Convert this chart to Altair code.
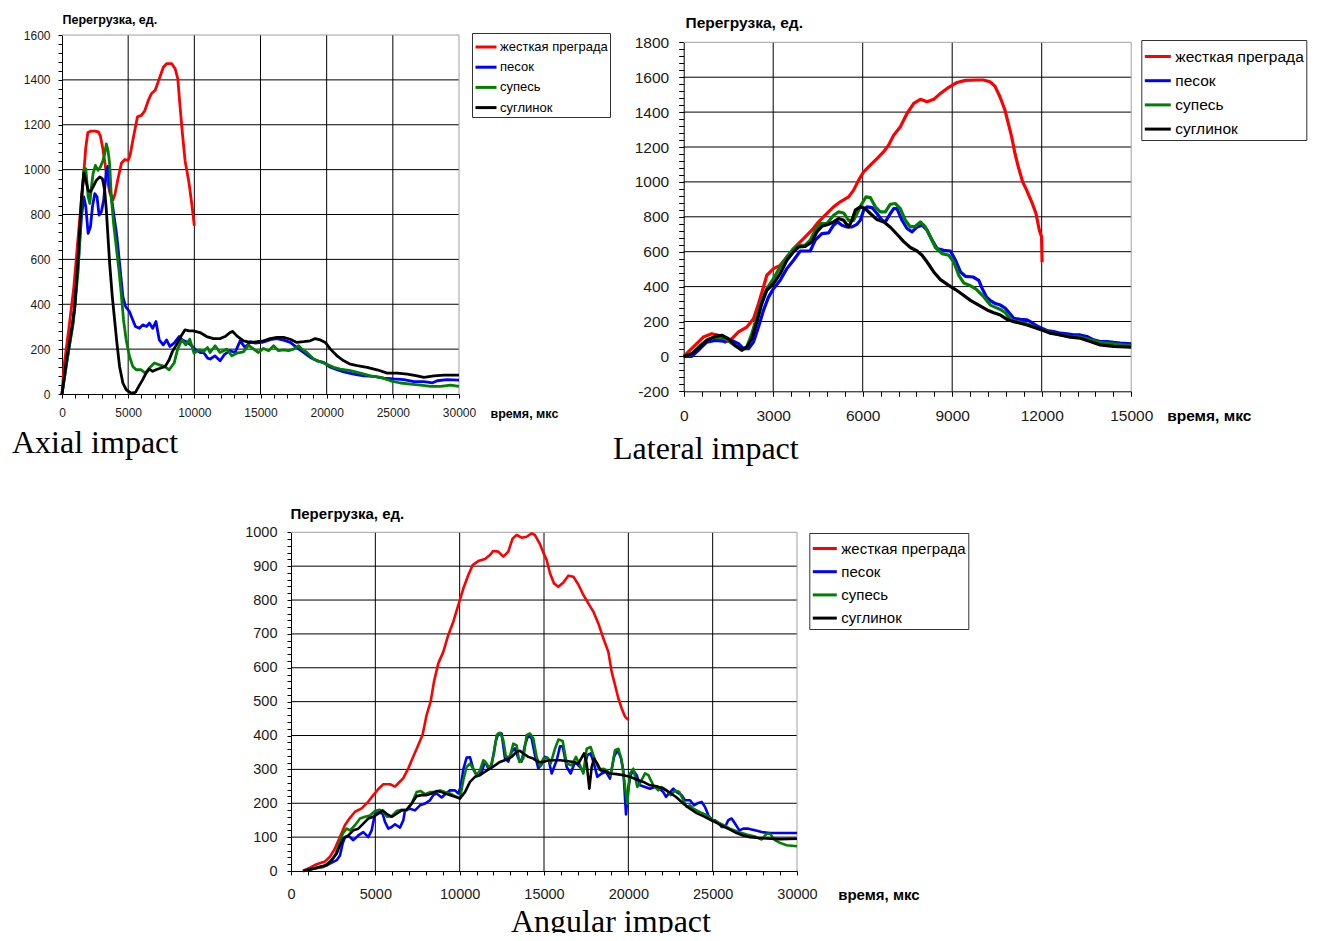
import altair as alt
import pandas as pd

FONT = "Liberation Sans"
SERIF = "Liberation Serif"

SERIES = ["жесткая преграда", "песок", "супесь", "суглинок"]
COLORS = ["#ff0000", "#0000ff", "#008000", "#000000"]
Y_TITLE = "Перегрузка, ед."
X_TITLE = "время, мкс"
CAPTIONS = ["Axial impact", "Lateral impact", "Angular impact"]

# ---------------- Axial impact ----------------
AX_X_TICKS = [0, 5000, 10000, 15000, 20000, 25000, 30000]
AX_Y_TICKS = [0, 200, 400, 600, 800, 1000, 1200, 1400, 1600]

AX_RED = [(0, 0), (150, 124), (350, 213), (600, 330), (900, 480), (1250, 720), (1600, 950),
          (1800, 1100), (1950, 1165), (2200, 1172), (2500, 1172), (2750, 1168), (2900, 1150),
          (3100, 1090), (3350, 985), (3600, 900), (3850, 865), (4000, 890), (4250, 965),
          (4500, 1030), (4750, 1045), (5000, 1040), (5150, 1065), (5400, 1145), (5700, 1235),
          (6000, 1242), (6250, 1262), (6500, 1305), (6750, 1338), (7050, 1355), (7350, 1405),
          (7650, 1455), (7900, 1472), (8300, 1472), (8550, 1450), (8750, 1405), (8900, 1295),
          (9100, 1160), (9300, 1040), (9600, 940), (9800, 850), (10000, 750)]
AX_BLUE = [(0, 0), (350, 138), (850, 330), (1225, 582), (1475, 790), (1650, 878), (1800, 834),
           (1975, 716), (2150, 745), (2300, 834), (2475, 893), (2650, 878), (2800, 797),
           (2975, 812), (3150, 864), (3350, 997), (3475, 1015), (3600, 923), (3800, 849),
           (3975, 775), (4150, 701), (4350, 582), (4600, 434), (4800, 390), (5100, 367),
           (5350, 330), (5550, 301), (5850, 293), (6100, 308), (6400, 301), (6600, 316),
           (6850, 293), (7100, 323), (7350, 241), (7650, 219), (7900, 241), (8150, 212),
           (8475, 227), (8850, 256), (9100, 241), (9350, 234), (9725, 219), (10100, 197),
           (10450, 185), (10700, 185), (11000, 160), (11200, 156), (11550, 170), (11950, 148),
           (12300, 178), (12700, 193), (13080, 185), (13460, 237), (13840, 207), (14220, 233),
           (14600, 227), (15100, 230), (15480, 237), (15860, 244), (16240, 247), (16740, 240),
           (17250, 230), (17750, 207), (18250, 185), (18760, 163), (19270, 148), (19770, 141),
           (20280, 119), (20780, 108), (21290, 99), (22040, 89), (22800, 81), (23560, 79),
           (24320, 71), (25070, 67), (25830, 64), (26590, 55), (27350, 55), (28000, 50),
           (28360, 59), (29110, 64), (30000, 62)]
AX_GREEN = [(0, 0), (350, 138), (850, 316), (1225, 553), (1475, 849), (1650, 997), (1800, 1004),
            (1975, 878), (2100, 849), (2225, 923), (2350, 982), (2525, 1019), (2725, 997),
            (2900, 1012), (3100, 1041), (3225, 1071), (3350, 1115), (3475, 1086), (3600, 1027),
            (3725, 878), (3900, 760), (4100, 656), (4300, 553), (4475, 449), (4650, 330),
            (4850, 241), (5100, 167), (5350, 123), (5600, 108), (5975, 108), (6300, 93),
            (6600, 116), (6975, 138), (7350, 130), (7725, 123), (8100, 108), (8475, 138),
            (8725, 197), (9050, 241), (9350, 219), (9650, 244), (9975, 182), (10350, 197),
            (10700, 190), (11000, 207), (11190, 185), (11570, 215), (11940, 185), (12450, 200),
            (12830, 170), (13210, 182), (13710, 188), (14090, 218), (14470, 200), (14850, 185),
            (15230, 203), (15610, 193), (15990, 215), (16360, 193), (16740, 197), (17120, 193),
            (17500, 200), (17880, 215), (18130, 200), (18510, 185), (19010, 156), (19520, 144),
            (20020, 133), (20530, 119), (21030, 111), (21790, 104), (22550, 93), (23310, 81),
            (24070, 74), (24820, 59), (25580, 49), (26340, 44), (27100, 40), (27850, 34),
            (28610, 34), (29370, 40), (30000, 34)]
AX_BLACK = [(0, 0), (350, 153), (725, 286), (975, 390), (1225, 612), (1475, 878), (1650, 985),
            (1800, 953), (1975, 908), (2150, 901), (2350, 923), (2600, 953), (2850, 967),
            (3050, 960), (3225, 908), (3350, 819), (3475, 701), (3600, 582), (3800, 434),
            (3975, 330), (4150, 227), (4350, 123), (4600, 49), (4850, 19), (5225, 4), (5550, 7),
            (5800, 34), (6100, 64), (6350, 93), (6600, 111), (6850, 101), (7100, 108), (7475, 116),
            (7800, 123), (8100, 153), (8350, 190), (8650, 219), (8975, 256), (9300, 286),
            (9600, 281), (9920, 281), (10430, 274), (10930, 256), (11440, 247), (11940, 247),
            (12320, 256), (12700, 274), (12900, 279), (13210, 259), (13710, 237), (14220, 230),
            (14720, 233), (15230, 237), (15730, 247), (16240, 252), (16740, 252), (17250, 244),
            (17750, 230), (18260, 233), (18760, 237), (19140, 247), (19520, 241), (19900, 230),
            (20280, 200), (20780, 170), (21290, 148), (21790, 133), (22300, 126), (23050, 119),
            (23810, 108), (24570, 93), (25330, 93), (26090, 89), (26840, 81), (27350, 74),
            (28110, 81), (28860, 84), (30000, 84)]

# ---------------- Lateral impact ----------------
LA_X_TICKS = [0, 3000, 6000, 9000, 12000, 15000]
LA_Y_TICKS = [-200, 0, 200, 400, 600, 800, 1000, 1200, 1400, 1600, 1800]

LA_RED = [(0, 0), (324, 54), (660, 111), (940, 130), (1164, 121), (1388, 82), (1611, 101),
          (1835, 140), (2115, 168), (2339, 216), (2507, 302), (2674, 398), (2786, 465),
          (3010, 503), (3234, 522), (3458, 570), (3737, 627), (4017, 675), (4297, 723),
          (4521, 771), (4801, 819), (5024, 857), (5248, 886), (5528, 914), (5696, 953),
          (5864, 1010), (6032, 1058), (6255, 1096), (6479, 1134), (6703, 1173), (6871, 1211),
          (7039, 1268), (7262, 1316), (7486, 1392), (7710, 1450), (7934, 1473), (8158, 1459),
          (8381, 1473), (8605, 1507), (8885, 1542), (9165, 1570), (9444, 1582), (9800, 1584),
          (10041, 1584), (10265, 1574), (10432, 1549), (10600, 1488), (10768, 1412),
          (10880, 1335), (10992, 1259), (11104, 1163), (11216, 1086), (11361, 1000),
          (11495, 953), (11663, 886), (11809, 819), (11921, 723), (11995, 685), (12005, 610),
          (12012, 540)]
LA_BLUE = [(0, 0), (269, 0), (548, 44), (772, 82), (1052, 92), (1332, 88), (1611, 92),
           (1835, 73), (2003, 44), (2171, 44), (2339, 82), (2507, 168), (2674, 264), (2842, 340),
           (3010, 388), (3234, 436), (3458, 503), (3682, 551), (3906, 604), (4241, 604),
           (4409, 666), (4633, 704), (4857, 708), (5024, 752), (5158, 771), (5304, 752),
           (5472, 742), (5640, 742), (5808, 757), (5920, 780), (6032, 838), (6143, 857),
           (6311, 853), (6479, 819), (6647, 780), (6759, 771), (6927, 819), (7039, 847),
           (7150, 847), (7318, 780), (7486, 733), (7654, 714), (7822, 742), (7990, 752),
           (8158, 723), (8325, 666), (8493, 618), (8717, 608), (8941, 604), (9109, 551),
           (9277, 484), (9444, 459), (9700, 455), (9892, 436), (10004, 389), (10148, 341),
           (10282, 319), (10450, 303), (10617, 294), (10784, 275), (10929, 246), (11063, 218),
           (11286, 212), (11509, 209), (11676, 193), (11843, 174), (12000, 161), (12178, 148),
           (12400, 142), (12624, 133), (12847, 129), (13070, 123), (13293, 123), (13516, 114),
           (13739, 95), (13962, 85), (14185, 85), (14408, 80), (14631, 76), (15000, 72)]
LA_GREEN = [(0, 0), (269, 15), (548, 63), (772, 92), (1052, 111), (1332, 107), (1556, 82),
            (1779, 54), (1947, 34), (2115, 54), (2283, 130), (2451, 226), (2618, 321),
            (2786, 388), (3010, 446), (3234, 513), (3458, 570), (3682, 618), (3850, 637),
            (4073, 637), (4241, 666), (4409, 723), (4577, 761), (4801, 761), (5024, 809),
            (5192, 828), (5360, 822), (5528, 780), (5696, 780), (5808, 819), (5976, 876),
            (6111, 914), (6255, 910), (6423, 857), (6591, 828), (6759, 828), (6927, 872),
            (7095, 876), (7262, 847), (7430, 780), (7598, 742), (7766, 746), (7934, 771),
            (8101, 742), (8269, 685), (8437, 624), (8661, 589), (8885, 580), (9053, 541),
            (9221, 465), (9388, 421), (9590, 407), (9800, 385), (10060, 341), (10282, 294),
            (10450, 281), (10617, 269), (10784, 250), (10952, 212), (11175, 199), (11397, 193),
            (11732, 171), (12000, 152), (12290, 137), (12624, 123), (12958, 114), (13293, 110),
            (13627, 95), (13962, 80), (14408, 72), (15000, 61)]
LA_BLACK = [(0, 0), (269, 15), (548, 54), (772, 92), (1052, 115), (1276, 121), (1500, 101),
            (1723, 63), (1947, 38), (2115, 54), (2283, 101), (2451, 197), (2618, 302),
            (2786, 379), (3010, 417), (3234, 474), (3458, 551), (3682, 599), (3850, 627),
            (4073, 631), (4297, 656), (4465, 714), (4633, 746), (4857, 757), (5024, 771),
            (5192, 790), (5360, 780), (5528, 742), (5640, 780), (5752, 838), (5920, 857),
            (6087, 847), (6255, 819), (6479, 784), (6703, 771), (6927, 740), (7150, 700),
            (7374, 658), (7598, 624), (7822, 604), (7990, 580), (8158, 541), (8381, 484),
            (8605, 440), (8885, 407), (9109, 383), (9333, 356), (9612, 321), (9948, 288),
            (10170, 266), (10393, 250), (10617, 237), (10840, 212), (11063, 199), (11286, 190),
            (11509, 180), (11732, 167), (12000, 152), (12290, 133), (12624, 123), (12958, 110),
            (13293, 104), (13627, 85), (13962, 66), (14408, 57), (15000, 53)]

# ---------------- Angular impact ----------------
AN_X_TICKS = [0, 5000, 10000, 15000, 20000, 25000, 30000]
AN_Y_TICKS = [0, 100, 200, 300, 400, 500, 600, 700, 800, 900, 1000]

AN_RED = [(692, 0), (1126, 10), (1522, 20), (2015, 28), (2312, 42), (2608, 67), (2905, 101),
          (3201, 136), (3498, 157), (3794, 175), (4190, 185), (4584, 205), (4881, 224),
          (5177, 242), (5474, 256), (5869, 256), (6165, 249), (6363, 259), (6659, 274),
          (6955, 303), (7252, 338), (7548, 372), (7805, 403), (8042, 461), (8279, 500),
          (8477, 559), (8734, 613), (9030, 647), (9326, 697), (9623, 736), (9919, 785),
          (10216, 834), (10512, 874), (10769, 903), (11105, 915), (11500, 921), (11797, 933),
          (11994, 945), (12290, 943), (12587, 928), (12883, 943), (13140, 982), (13377, 992),
          (13674, 984), (13970, 987), (14267, 997), (14464, 992), (14761, 965), (14961, 940),
          (15159, 918), (15356, 879), (15594, 849), (15850, 839), (16147, 852), (16443, 872),
          (16740, 869), (17036, 846), (17333, 815), (17629, 790), (17925, 766), (18222, 731),
          (18518, 687), (18814, 647), (19012, 588), (19210, 549), (19407, 510), (19605, 480),
          (19802, 456), (20000, 446)]
AN_BLUE = [(731, 0), (1324, 7), (1917, 12), (2312, 22), (2707, 32), (2905, 46), (3063, 81),
           (3201, 100), (3458, 102), (3695, 91), (3992, 105), (4288, 115), (4584, 100),
           (4782, 120), (4980, 169), (5177, 174), (5434, 169), (5572, 145), (5770, 125),
           (5968, 130), (6165, 138), (6462, 128), (6659, 150), (6758, 179), (7054, 184),
           (7351, 179), (7647, 194), (7944, 199), (8240, 209), (8438, 224), (8635, 229),
           (8931, 217), (9188, 229), (9425, 238), (9722, 238), (9919, 229), (10058, 248),
           (10216, 300), (10413, 335), (10611, 336), (10809, 300), (11006, 283), (11303, 293),
           (11500, 323), (11698, 303), (11896, 313), (12133, 382), (12290, 406), (12488, 406),
           (12686, 333), (12883, 323), (13081, 352), (13279, 362), (13476, 333), (13674, 323),
           (13871, 372), (14069, 401), (14267, 392), (14464, 342), (14662, 303), (14860, 315),
           (15060, 337), (15257, 332), (15455, 288), (15752, 327), (15950, 368), (16108, 368),
           (16344, 307), (16581, 288), (16838, 322), (17135, 307), (17332, 293), (17569, 342),
           (17767, 347), (17965, 317), (18162, 278), (18419, 288), (18676, 293), (18913, 273),
           (19150, 337), (19348, 357), (19546, 337), (19704, 297), (19862, 167), (20000, 248),
           (20138, 283), (20296, 297), (20494, 283), (20692, 253), (20988, 248), (21284, 243),
           (21581, 248), (21800, 245), (22075, 233), (22233, 219), (22470, 233), (22668, 243),
           (22866, 233), (23162, 224), (23360, 209), (23656, 209), (23893, 194), (24150, 201),
           (24348, 204), (24545, 189), (24742, 165), (24940, 150), (25138, 150), (25335, 142),
           (25533, 130), (25730, 130), (25928, 150), (26126, 155), (26323, 140), (26580, 120),
           (26817, 125), (27114, 125), (27509, 120), (27904, 115), (28398, 112), (28991, 112),
           (30000, 112)]
AN_GREEN = [(731, 0), (1324, 7), (1917, 14), (2312, 27), (2608, 46), (2865, 81), (3063, 110),
            (3300, 125), (3498, 120), (3794, 135), (4090, 155), (4387, 160), (4683, 164),
            (4980, 177), (5236, 181), (5474, 174), (5711, 160), (5968, 162), (6264, 177),
            (6560, 181), (6857, 179), (7153, 199), (7450, 233), (7687, 236), (7944, 227),
            (8240, 233), (8536, 233), (8833, 238), (9129, 233), (9425, 229), (9722, 221),
            (10018, 214), (10216, 268), (10413, 307), (10611, 317), (10809, 302), (11006, 283),
            (11204, 297), (11401, 327), (11599, 317), (11797, 302), (12034, 347), (12192, 401),
            (12390, 408), (12587, 386), (12745, 337), (12982, 337), (13180, 376), (13377, 371),
            (13536, 322), (13773, 332), (13971, 401), (14168, 406), (14366, 391), (14563, 337),
            (14761, 310), (14959, 332), (15198, 335), (15395, 317), (15652, 361), (15850, 388),
            (16108, 384), (16344, 317), (16640, 312), (16897, 337), (17135, 312), (17332, 288),
            (17530, 361), (17767, 366), (18024, 327), (18281, 299), (18518, 302), (18716, 297),
            (18953, 283), (19210, 357), (19407, 361), (19605, 327), (19802, 248), (19941, 199),
            (20099, 288), (20296, 302), (20533, 248), (20731, 263), (20988, 288), (21186, 283),
            (21482, 253), (21778, 238), (21976, 248), (22273, 238), (22510, 224), (22767, 238),
            (23024, 233), (23261, 209), (23459, 189), (23656, 194), (23854, 184), (24249, 174),
            (24644, 165), (25039, 150), (25533, 138), (26027, 125), (26521, 115), (27015, 108),
            (27509, 102), (27904, 93), (28200, 110), (28398, 110), (28694, 91), (28991, 83),
            (29386, 76), (30000, 73)]
AN_BLACK = [(731, 0), (1324, 7), (1818, 14), (2114, 17), (2411, 32), (2707, 51), (2905, 76),
            (3102, 96), (3399, 105), (3695, 120), (3992, 125), (4288, 140), (4584, 155),
            (4881, 160), (5177, 169), (5434, 179), (5671, 169), (5968, 160), (6264, 169),
            (6560, 179), (6857, 181), (7153, 199), (7450, 221), (7746, 224), (8042, 224),
            (8339, 229), (8635, 236), (8931, 233), (9228, 227), (9623, 221), (10018, 214),
            (10315, 233), (10611, 263), (10908, 278), (11204, 283), (11500, 293), (11797, 302),
            (12093, 312), (12390, 322), (12785, 329), (13081, 337), (13377, 352), (13575, 355),
            (13773, 347), (14069, 337), (14366, 332), (14662, 322), (14959, 322), (15255, 327),
            (15554, 327), (15950, 327), (16344, 325), (16740, 322), (17036, 317), (17234, 335),
            (17372, 347), (17530, 317), (17688, 243), (17826, 307), (17965, 332), (18162, 317),
            (18360, 297), (18617, 295), (18913, 288), (19308, 286), (19704, 283), (20099, 278),
            (20494, 270), (20889, 263), (21284, 253), (21680, 250), (22075, 243), (22470, 231),
            (22866, 217), (23261, 199), (23656, 184), (24051, 171), (24446, 162), (24842, 152),
            (25237, 142), (25632, 132), (26027, 122), (26422, 112), (26817, 105), (27213, 100),
            (27608, 98), (28200, 96), (28991, 94), (30000, 95)]

# ---------------- layout / style per panel ----------------
PANELS = [
    dict(series=[AX_RED, AX_BLUE, AX_GREEN, AX_BLACK], xt=AX_X_TICKS, yt=AX_Y_TICKS,
         xminor=1000, yminor=40, xrange=[54, 451], yrange=[386, 27],
         xoff=-539, yoff=-54, tick=4, xpad=9, ypad=8, lab_fs=12, title_fs=12.5,
         ytx=0, yty=11, xtx=482, xty=13, sw=2.8,
         lx=464, ly=25, leg_fs=13, sym=441, lpad=2, lrow=1.2, loff=2),
    dict(series=[LA_RED, LA_BLUE, LA_GREEN, LA_BLACK], xt=LA_X_TICKS, yt=LA_Y_TICKS,
         xminor=600, yminor=40, xrange=[675.7, 1123.2], yrange=[383.3, 34.3],
         xoff=-541.7, yoff=-675.7, tick=5, xpad=12, ypad=10, lab_fs=15.5, title_fs=15.5,
         ytx=1.3, yty=14.6, xtx=1158.7, xty=17, sw=3.2,
         lx=1133.3, ly=32, leg_fs=15.5, sym=676, lpad=2, lrow=1.2, loff=3),
    dict(series=[AN_RED, AN_BLUE, AN_GREEN, AN_BLACK], xt=AN_X_TICKS, yt=AN_Y_TICKS,
         xminor=1000, yminor=20, xrange=[283, 789], yrange=[863, 524.3],
         xoff=-62, yoff=-283, tick=4, xpad=12, ypad=10, lab_fs=14.5, title_fs=15,
         ytx=-1, yty=505.9, xtx=829.7, xty=16, sw=2.6,
         lx=801.3, ly=525, leg_fs=15, sym=576, lpad=2, lrow=1.2, loff=3),
]
CAPTION_POS = [(4, 445), (605, 451), (503, 924)]


def build_panel(p):
    xdom = [p["xt"][0], p["xt"][-1]]
    ydom = [p["yt"][0], p["yt"][-1]]
    xmajor = p["xt"][1] - p["xt"][0]
    ymajor = p["yt"][1] - p["yt"][0]
    xvals = list(range(xdom[0], xdom[1] + 1, p["xminor"]))
    yvals = list(range(ydom[0], ydom[1] + 1, p["yminor"]))

    xs = alt.Scale(domain=xdom, range=p["xrange"], nice=False, zero=False)
    ys = alt.Scale(domain=ydom, range=p["yrange"], nice=False, zero=False)

    xaxis = alt.Axis(
        orient="bottom", offset=p["xoff"], grid=False, values=xvals,
        labelExpr=f"datum.value % {xmajor} === 0 ? '' + datum.value : ''",
        tickSize=p["tick"], tickColor="black", tickWidth=1,
        domainColor="black", domainWidth=1,
        labelFont=FONT, labelFontSize=p["lab_fs"], labelColor="#1a1a1a",
        labelPadding=p["xpad"], labelOverlap=False, labelFlush=False,
        title=X_TITLE, titleFont=FONT, titleFontSize=p["title_fs"], titleFontWeight="bold",
        titleColor="black", titleX=p["xtx"], titleY=p["xty"], titleAlign="left",
        titleBaseline="top", titleAngle=0)
    yaxis = alt.Axis(
        orient="left", offset=p["yoff"], grid=False, values=yvals,
        labelExpr=f"datum.value % {ymajor} === 0 ? '' + datum.value : ''",
        tickSize=p["tick"], tickColor="black", tickWidth=1,
        domainColor="black", domainWidth=1,
        labelFont=FONT, labelFontSize=p["lab_fs"], labelColor="#1a1a1a",
        labelPadding=p["ypad"], labelOverlap=False, labelFlush=False,
        title=Y_TITLE, titleFont=FONT, titleFontSize=p["title_fs"], titleFontWeight="bold",
        titleColor="black", titleX=p["ytx"], titleY=p["yty"], titleAlign="left",
        titleBaseline="middle", titleAngle=0)

    vgrid = pd.DataFrame({"gx": p["xt"][1:-1], "y0": ydom[0], "y1": ydom[1]})
    hgrid = pd.DataFrame({"gy": p["yt"][1:-1], "x0": xdom[0], "x1": xdom[1]})
    frame = pd.DataFrame({"fx": [xdom[0], xdom[1]], "fx2": [xdom[1], xdom[1]],
                          "fy": [ydom[1], ydom[0]], "fy2": [ydom[1], ydom[1]]})

    layers = [
        alt.Chart(vgrid).mark_rule(color="black", strokeWidth=1).encode(
            x=alt.X("gx:Q", scale=xs, axis=xaxis), y=alt.Y("y0:Q", scale=ys, axis=yaxis),
            y2="y1:Q"),
        alt.Chart(hgrid).mark_rule(color="black", strokeWidth=1).encode(
            y=alt.Y("gy:Q", scale=ys, axis=yaxis), x=alt.X("x0:Q", scale=xs, axis=xaxis),
            x2="x1:Q"),
        alt.Chart(frame).mark_rule(color="#a0a0a0", strokeWidth=1).encode(
            x=alt.X("fx:Q", scale=xs, axis=xaxis), x2="fx2:Q",
            y=alt.Y("fy:Q", scale=ys, axis=yaxis), y2="fy2:Q"),
    ]
    legend = alt.Legend(
        orient="none", legendX=p["lx"], legendY=p["ly"], title=None,
        symbolType="stroke", symbolStrokeWidth=3, symbolSize=p["sym"],
        labelFont=FONT, labelFontSize=p["leg_fs"], labelColor="black",
        labelOffset=p["loff"], rowPadding=p["lrow"], padding=p["lpad"],
        strokeColor="#333333", fillColor="white", labelLimit=400)
    cscale = alt.Scale(domain=SERIES, range=COLORS)
    for name, pts in zip(SERIES, p["series"]):
        df = pd.DataFrame({"t": [a for a, b in pts], "v": [b for a, b in pts], "series": name})
        layers.append(
            alt.Chart(df).mark_line(strokeWidth=p["sw"], strokeJoin="round").encode(
                x=alt.X("t:Q", scale=xs, axis=xaxis),
                y=alt.Y("v:Q", scale=ys, axis=yaxis),
                color=alt.Color("series:N", scale=cscale, legend=legend),
            ))
    return alt.layer(*layers)


panels = [build_panel(p) for p in PANELS]
captions = []
for text, (cx, cy) in zip(CAPTIONS, CAPTION_POS):
    captions.append(
        alt.Chart(pd.DataFrame({"c": [text]})).mark_text(
            font=SERIF, fontSize=32, align="left", baseline="alphabetic", color="black"
        ).encode(text="c:N", x=alt.value(cx), y=alt.value(cy)))

chart = alt.layer(*panels, *captions).resolve_scale(
    x="independent", y="independent", color="independent"
).properties(
    width=1304, height=925, padding=0, background="white",
    autosize=alt.AutoSizeParams(type="none"),
).configure_view(strokeOpacity=0)

chart.save("out.html", embed_options={"renderer": "svg", "actions": False})
